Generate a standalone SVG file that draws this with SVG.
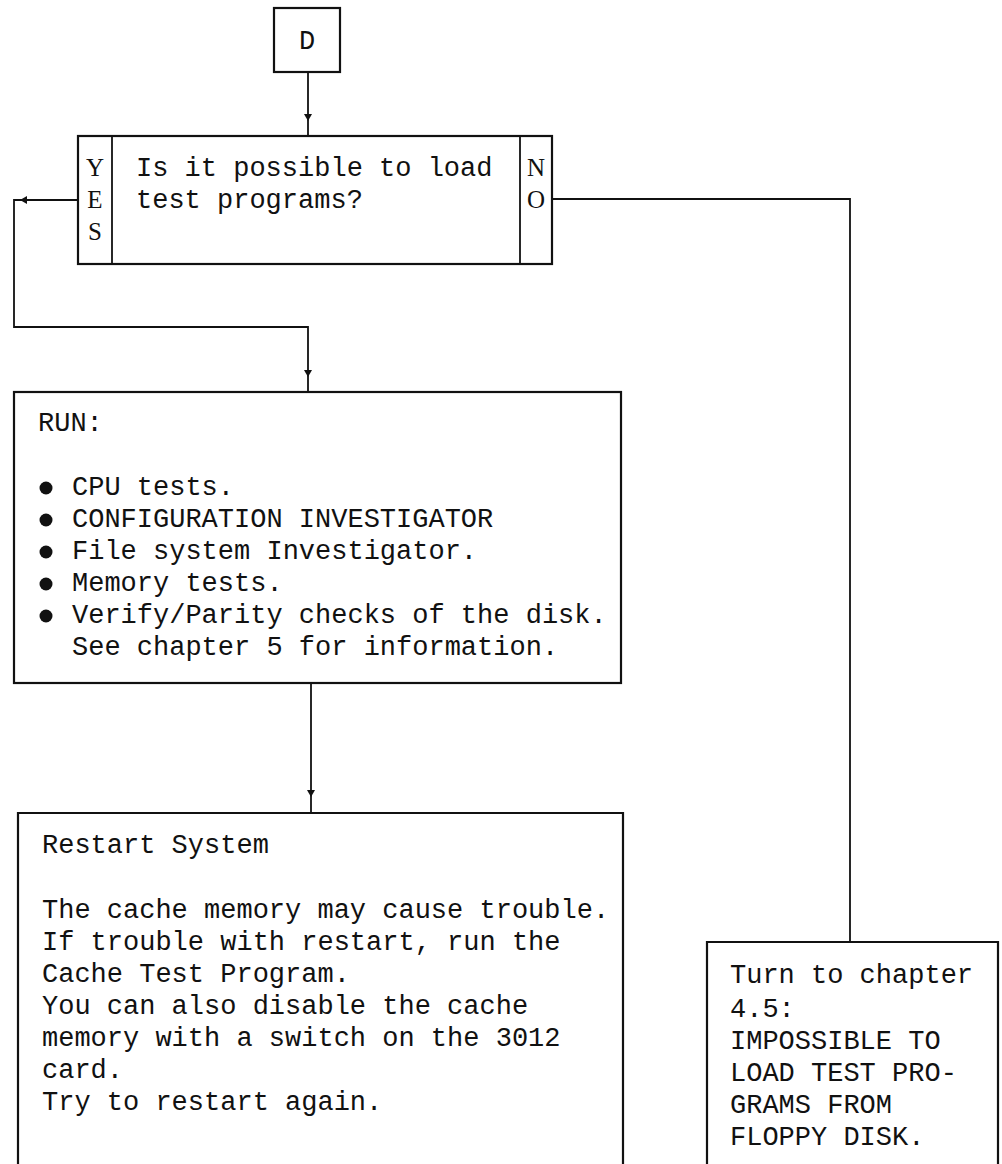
<svg xmlns="http://www.w3.org/2000/svg" width="1002" height="1164" viewBox="0 0 1002 1164">
<style>
.box{fill:#fff;stroke:#111;stroke-width:2.2}
.ln{fill:none;stroke:#111;stroke-width:1.8}
.t{font-family:"Liberation Mono","Courier New",monospace;font-size:27px;fill:#111}
.yn{font-family:"Liberation Serif","Times New Roman",serif;font-size:25px;fill:#111;text-anchor:middle}
.ah{fill:#111}
</style>
<rect width="1002" height="1164" fill="#fff"/>
<g id="connectors">
<path class="ln" d="M308,72 V136"/>
<polygon class="ah" points="304,114 312,114 308,121"/>
<path class="ln" d="M78,200 H14 V327 H308 V392"/>
<polygon class="ah" points="27,196 27,204 20,200"/>
<polygon class="ah" points="304,370 312,370 308,377"/>
<path class="ln" d="M311,683 V813"/>
<polygon class="ah" points="307,790 315,790 311,797"/>
<path class="ln" d="M552,199 H850 V942"/>
</g>
<g id="node-d">
<rect class="box" x="274" y="8" width="66" height="64"/>
<text class="t" x="307" y="49" text-anchor="middle">D</text>
</g>
<g id="node-decision">
<rect class="box" x="78" y="136" width="474" height="128"/>
<line class="ln" x1="112" y1="136" x2="112" y2="264"/>
<line class="ln" x1="520" y1="136" x2="520" y2="264"/>
<text class="yn" x="95" y="176">Y</text>
<text class="yn" x="95" y="208">E</text>
<text class="yn" x="95" y="240">S</text>
<text class="yn" x="536" y="176">N</text>
<text class="yn" x="536" y="208">O</text>
<text class="t" x="136" y="176">Is it possible to load</text>
<text class="t" x="136" y="208">test programs?</text>
</g>
<g id="node-run">
<rect class="box" x="14" y="392" width="607" height="291"/>
<text class="t" x="38" y="431">RUN:</text>
<circle class="ah" cx="46" cy="488" r="6.5"/>
<circle class="ah" cx="46" cy="520" r="6.5"/>
<circle class="ah" cx="46" cy="552" r="6.5"/>
<circle class="ah" cx="46" cy="584" r="6.5"/>
<circle class="ah" cx="46" cy="616" r="6.5"/>
<text class="t" x="72" y="495">CPU tests.</text>
<text class="t" x="72" y="527">CONFIGURATION INVESTIGATOR</text>
<text class="t" x="72" y="559">File system Investigator.</text>
<text class="t" x="72" y="591">Memory tests.</text>
<text class="t" x="72" y="623">Verify/Parity checks of the disk.</text>
<text class="t" x="72" y="655">See chapter 5 for information.</text>
</g>
<g id="node-restart">
<path class="box" d="M18,1166 V813 H623 V1166"/>
<text class="t" x="42" y="853">Restart System</text>
<text class="t" x="42" y="918">The cache memory may cause trouble.</text>
<text class="t" x="42" y="950">If trouble with restart, run the</text>
<text class="t" x="42" y="982">Cache Test Program.</text>
<text class="t" x="42" y="1014">You can also disable the cache</text>
<text class="t" x="42" y="1046">memory with a switch on the 3012</text>
<text class="t" x="42" y="1078">card.</text>
<text class="t" x="42" y="1110">Try to restart again.</text>
</g>
<g id="node-turn">
<path class="box" d="M707,1166 V942 H998 V1166"/>
<text class="t" x="730" y="983">Turn to chapter</text>
<text class="t" x="730" y="1017">4.5:</text>
<text class="t" x="730" y="1049">IMPOSSIBLE TO</text>
<text class="t" x="730" y="1081">LOAD TEST PRO-</text>
<text class="t" x="730" y="1113">GRAMS FROM</text>
<text class="t" x="730" y="1145">FLOPPY DISK.</text>
</g>
</svg>
